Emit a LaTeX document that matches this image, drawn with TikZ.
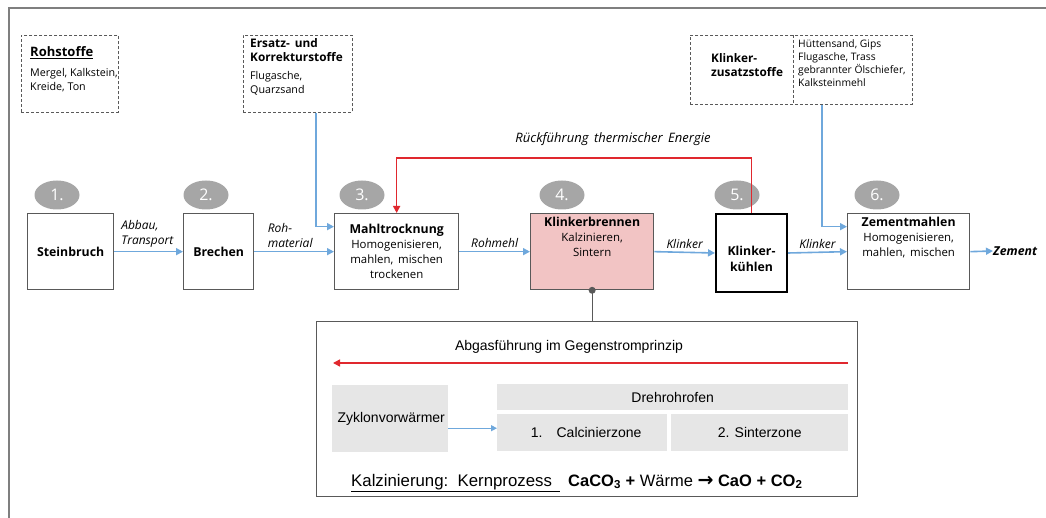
\documentclass[tikz,border=0pt]{standalone}
\usepackage{fontspec}
\setmainfont{Open Sans}
\newfontfamily\arialf{Liberation Sans}
\newfontfamily\djv{DejaVu Sans}
\usetikzlibrary{arrows.meta,calc,shapes.geometric}
\definecolor{framec}{HTML}{7F7F7F}
\definecolor{boxc}{HTML}{595959}
\definecolor{bluec}{HTML}{6FA8DC}
\definecolor{redc}{HTML}{E0282E}
\definecolor{circc}{HTML}{A6A6A6}
\definecolor{pinkc}{HTML}{F2C4C4}
\definecolor{lgray}{HTML}{E6E6E6}
\tikzset{
  procbox/.style={draw=boxc, line width=1.3pt, fill=white, minimum width=#1, minimum height=76pt, anchor=north west, align=center, inner sep=2pt, font=\fontsize{11.4}{15}\selectfont},
  numcirc/.style={ellipse, fill=circc, text=white, minimum width=45pt, minimum height=29pt, inner sep=0pt, font=\fontsize{16}{16}\selectfont},
  dbox/.style={draw=boxc, dashed, dash pattern=on 3pt off 2pt, line width=0.8pt, anchor=north west},
  flow/.style={draw=bluec, line width=1.6pt, -{Triangle[length=7pt,width=7pt]}},
  redflow/.style={draw=redc, line width=1.6pt, -{Triangle[length=7pt,width=7pt]}},
  lab/.style={font=\fontsize{12}{15}\selectfont\itshape, align=left},
  small/.style={font=\fontsize{10.7}{14}\selectfont, align=left, anchor=north west, inner sep=0pt},
  smallb/.style={font=\fontsize{11.8}{14}\selectfont\bfseries, align=left, anchor=north west, inner sep=0pt},
  graybox/.style={fill=lgray, anchor=north west, inner sep=0pt, font=\arialf\fontsize{14}{16}\selectfont},
  ttl/.style={font=\fontsize{12.3}{15}\selectfont\bfseries},
}
\begin{document}
\begin{tikzpicture}[x=1pt,y=-1pt]
\useasboundingbox (0,0) rectangle (1046,518);
% frame
\draw[framec, line width=2pt] (9,518) -- (9,8) -- (1046,8);

% dashed info boxes
\node[dbox, minimum width=97pt, minimum height=77pt] (roh) at (21,35) {};
\node[smallb, anchor=base west, font=\fontsize{13}{14}\selectfont\bfseries] (rohT) at (30,57) {\underline{Rohstoffe}};
\node[small] (rohB) at (30,68) {Mergel, Kalkstein,\\Kreide, Ton};

\node[dbox, minimum width=109pt, minimum height=77pt] (ers) at (243,35) {};
\node[smallb] (ersT) at (250,38) {Ersatz-\,\ und\\Korrekturstoffe};
\node[small] (ersB) at (250,71) {Flugasche,\\Quarzsand};

\node[dbox, minimum width=222pt, minimum height=69pt] (kz) at (690,35) {};
\draw[boxc, dashed, dash pattern=on 3pt off 2pt, line width=0.8pt] (kz.north west) ++(103,0) coordinate (kzd1) -- (kzd1 |- kz.south);
\node[smallb] (kzT) at (711,53) {Klinker-\\zusatzstoffe};
\node[small, font=\fontsize{10.3}{13.3}\selectfont] (kzB) at (798,39) {Hüttensand, Gips\\Flugasche, Trass\\gebrannter Ölschiefer,\\Kalksteinmehl};

% process boxes
\node[procbox=86pt, font=\fontsize{12.3}{15}\selectfont\bfseries] (s1) at (27,213) {Steinbruch};
\node[procbox=70pt, font=\fontsize{12.3}{15}\selectfont\bfseries] (s2) at (183,213) {Brechen};
\node[procbox=124pt] (s3) at (334,213) {{\fontsize{12.3}{15}\selectfont\bfseries Mahltrocknung}\\Homogenisieren,\\mahlen,\, mischen\\trockenen};
\node[procbox=123pt, fill=pinkc] (s4) at (530,213) {{\fontsize{12.3}{15}\selectfont\bfseries Klinkerbrennen}\\Kalzinieren,\\Sintern\\[15pt]};
\node[procbox=71pt, draw=black, line width=2pt, minimum height=78pt] (s5) at (715,213) {};
\node[ttl, align=center, font=\fontsize{12.3}{16.5}\selectfont\bfseries] (s5t) at ($(s5.center)+(0,6)$) {Klinker-\\kühlen};
\node[procbox=122pt] (s6) at (847,213) {{\fontsize{12.3}{15}\selectfont\bfseries Zementmahlen}\\Homogenisieren,\\mahlen,\, mischen\\[15pt]};
\node[font=\fontsize{12.3}{15}\selectfont\bfseries\itshape, anchor=west, inner sep=0pt] (zem) at (993,251) {Zement};

% circles
\node[numcirc] (c1) at (57,195) {1.};
\node[numcirc] (c2) at (206,195) {2.};
\node[numcirc] (c3) at (362,195) {3.};
\node[numcirc] (c4) at (562,195) {4.};
\node[numcirc] (c5) at (737,195) {5.};
\node[numcirc] (c6) at (877,195) {6.};

% flows
\draw[flow] (s1.east) -- node[lab, above, pos=0.48] {Abbau,\\Transport} (s2.west);
\draw[flow] (s2.east) -- node[lab, above, pos=0.45] {Roh-\\material} (s3.west);
\draw[flow] (s3.east) -- node[lab, above] {Rohmehl} (s4.west);
\draw[flow] (s4.east) -- node[lab, above] {Klinker} (s5.west);
\draw[flow] (s5.east) -- node[lab, above] {Klinker} (s6.west);
\draw[flow] (s6.east) -- (zem.west);

\draw[flow] ($(ers.south west)+(73,0)$) |- ([yshift=25pt]s3.west);
\draw[flow] ($(kz.south west)+(132,0)$) |- ([yshift=25pt]s6.west);

% thermal feedback
\draw[redflow] (s5.north) -- ++(0,-55) -| (s3.north);
\node[lab, font=\fontsize{13}{15}\selectfont\itshape] (rueck) at (613,139) {Rückführung\, thermischer\, Energie};

% bottom detail box
\node[draw=boxc, line width=1.3pt, minimum width=541pt, minimum height=175pt, anchor=north west] (bb) at (316,321) {};
\draw[boxc, line width=1.3pt] (s4.south) -- (s4.south |- bb.north);
\fill[boxc] (s4.south) circle (3.5pt);

\node[font=\arialf\fontsize{14}{16}\selectfont] (abg) at (569,347) {Abgasführung im Gegenstromprinzip};
\coordinate (ra) at (848,363);
\coordinate (rb) at (333,363);
\draw[redflow] (ra) -- (rb);

\node[graybox, minimum width=116pt, minimum height=67pt] (zyk) at (332,385) {\hspace*{2pt}Zyklonvorwärmer\\[-2pt]};
\node[graybox, minimum width=351pt, minimum height=26pt] (dreh) at (497,384) {Drehrohrofen};
\node[graybox, minimum width=170pt, minimum height=37pt] (calc) at (497,414) {\hspace*{8pt}1.\hspace{14pt}Calcinierzone};
\node[graybox, minimum width=177pt, minimum height=37pt] (sint) at (671,414) {2. Sinterzone};
\coordinate (za) at ($(zyk.east)+(0,9.5)$);
\draw[draw=bluec, line width=1.3pt, -{Triangle[length=6pt,width=6pt]}] (za) -- (za -| calc.west);

\node[font=\arialf\fontsize{16.8}{18}\selectfont, anchor=base west, inner sep=0pt] (kal) at (351,486) {\underline{Kalzinierung:\ \ Kernprozess\hspace*{8pt}}};
\node[font=\arialf\fontsize{16.5}{18}\selectfont, anchor=base west, inner sep=0pt] (form) at (568,486) {\textbf{CaCO\textsubscript{3} +} Wärme {\djv\bfseries\fontsize{19}{18}\selectfont →} \textbf{CaO + CO\textsubscript{2}}};
\end{tikzpicture}
\end{document}
